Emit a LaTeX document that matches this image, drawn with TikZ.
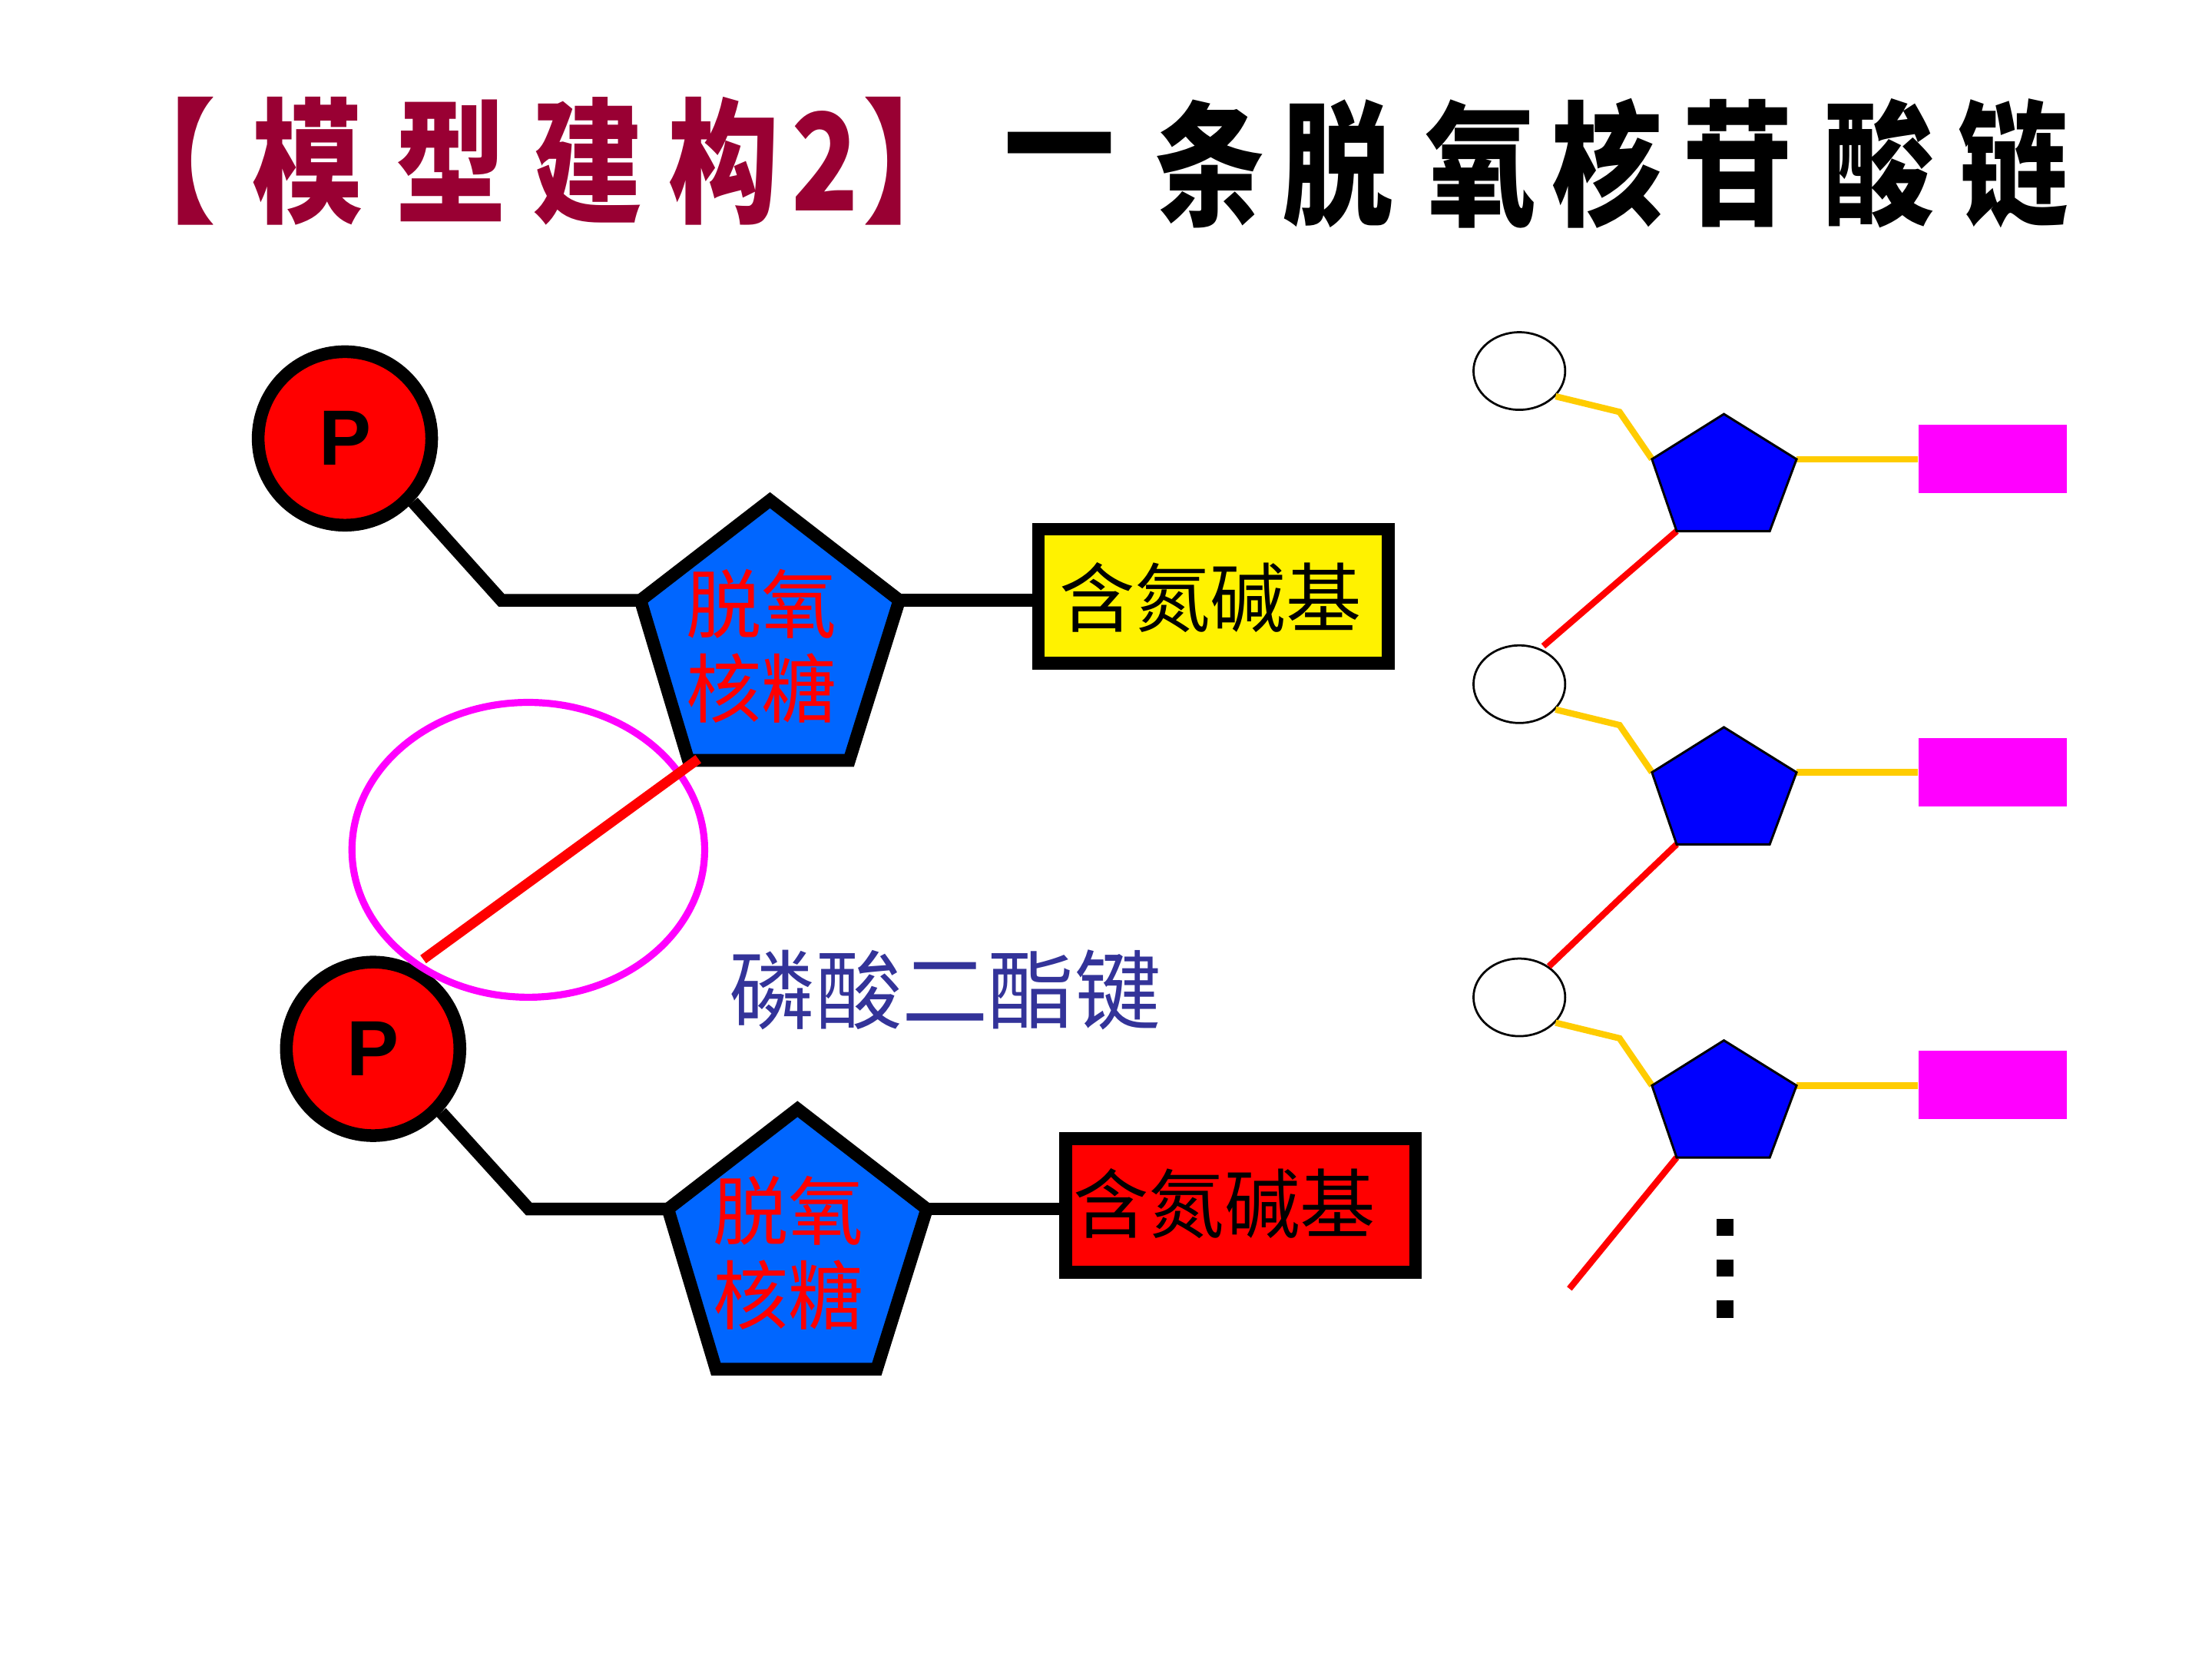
\documentclass[tikz,border=0pt]{standalone}
\usepackage{fontspec}
\newfontfamily\cjk{Noto Sans CJK SC}
\newfontfamily\latin{Liberation Sans}
\usetikzlibrary{shapes.geometric}
\newcommand\upx{0.459184pt}
\definecolor{titlered}{HTML}{990033}
\definecolor{sugarblue}{HTML}{0066FF}
\definecolor{bondblue}{HTML}{333399}
\definecolor{linkyellow}{HTML}{FFCC00}
\definecolor{basemag}{HTML}{FF00FF}
\definecolor{smallblue}{HTML}{0000FF}
\begin{document}
\begin{tikzpicture}[x=0.459184pt, y=-0.459184pt,
  heavy/.style={line width=9*\upx, draw=black, line join=miter},
  phos/.style={circle, draw=black, fill=red, line width=9*\upx, minimum size=123*\upx, inner sep=0pt,
    font=\latin\bfseries\fontsize{25.5}{28}\selectfont},
  sugar/.style={draw=black, fill=sugarblue, line width=9*\upx, line join=miter},
  basebox/.style={rectangle, draw=black, line width=9*\upx, minimum width=248*\upx, minimum height=95*\upx, inner sep=0pt},
  basetext/.style={font=\cjk\fontsize{24.6}{28}\selectfont, text=black, inner sep=0pt},
  sugartext/.style={font=\cjk\fontsize{24.5}{27.6}\selectfont, text=red, align=center, inner sep=0pt},
  bondtext/.style={font=\cjk\fontsize{28.1}{32}\selectfont, text=bondblue, inner sep=0pt},
  titlechar/.style={font=\cjk\bfseries\fontsize{36}{40}\selectfont, inner sep=0pt, yscale=1.22},
  hole/.style={ellipse, draw=black, line width=1.5*\upx, minimum width=65*\upx, minimum height=55*\upx, inner sep=0pt},
  minisugar/.style={draw=black, fill=smallblue, line width=1.6*\upx, line join=miter},
  yellowlink/.style={draw=linkyellow, line width=4.5*\upx},
  redlink/.style={draw=red, line width=4.5*\upx},
  minibase/.style={rectangle, fill=basemag, minimum width=105*\upx, minimum height=48.5*\upx, inner sep=0pt},
  dotsq/.style={rectangle, fill=black, minimum size=12*\upx, inner sep=0pt}
]
\useasboundingbox (0,0) rectangle (1568,1176);
\fill[white] (0,0) rectangle (1568,1176);

% ---- title ----
\foreach \ch/\x [count=\i] in {【/114,模/218,型/320,建/417,构/513,2/585,】/651}
  \node[titlechar, text=titlered] (tr\i) at (\x,114) {\ch};
\foreach \ch/\x [count=\i] in {一/751,条/858,脱/948,氧/1050,核/1139,苷/1232,酸/1332,链/1427}
  \node[titlechar, text=black] (tb\i) at (\x,116) {\ch};

% ---- first nucleotide ----
\coordinate (c1) at (355.4,425.5);
\coordinate (s1t) at (545.8,354.6);
\coordinate (s1r) at (637.5,425.5);
\coordinate (s1br) at (602,539);
\coordinate (s1bl) at (488,539);
\coordinate (s1l) at (454,425.5);
\node[phos] (p1) at (244.5,310.8) {P};
\node[basebox, fill=yellow] (b1) at (860,422.5) {};
\node[basetext] (b1t) at (858,423.5) {含氮碱基};
\draw[heavy] (p1.-43) -- (c1) -- (s1l);
\draw[heavy] (s1r) -- (s1r -| b1.west);
\draw[sugar] (s1t) -- (s1r) -- (s1br) -- (s1bl) -- (s1l) -- cycle;
\node[sugartext] (s1txt) at (540,458) {脱氧\\核糖};

% ---- second nucleotide ----
\coordinate (c2) at (374.9,857);
\coordinate (s2t) at (565.3,786.1);
\coordinate (s2r) at (657,857);
\coordinate (s2br) at (621.5,970.5);
\coordinate (s2bl) at (507.5,970.5);
\coordinate (s2l) at (473.5,857);
\node[phos] (p2) at (264.5,743.5) {P};
\node[basebox, fill=red] (b2) at (879.5,854.5) {};
\node[basetext] (b2t) at (868,853) {含氮碱基};
\draw[heavy] (p2.-43) -- (c2) -- (s2l);
\draw[heavy] (s2r) -- (s2r -| b2.west);
\draw[sugar] (s2t) -- (s2r) -- (s2br) -- (s2bl) -- (s2l) -- cycle;
\node[sugartext] (s2txt) at (559,888) {脱氧\\核糖};

% ---- phosphodiester bond ----
\node[ellipse, draw=basemag, line width=5*\upx, minimum width=250*\upx, minimum height=209*\upx, inner sep=0pt] (ring) at (374.5,602.4) {};
\coordinate (o3) at (495,538);
\coordinate (o5) at (300,680);
\draw[red, line width=7*\upx] (o5) -- (o3);
\node[bondtext] (bondlbl) at (670,701.5) {磷酸二酯键};

% ---- chain of nucleotides ----
\foreach \k in {0,1,2}{
  \pgfmathsetmacro\dy{222*\k}
  \node[hole] (h\k) at (1077,263+\dy) {};
  \coordinate (q\k t) at (1222,293.5+\dy);
  \coordinate (q\k r) at (1273.5,325.5+\dy);
  \coordinate (q\k br) at (1254.5,376.5+\dy);
  \coordinate (q\k bl) at (1188.5,376.5+\dy);
  \coordinate (q\k l) at (1171,325.5+\dy);
  \coordinate (k\k) at (1148,292+\dy);
  \node[minibase] (m\k) at (1412.5,325.25+\dy) {};
}
\coordinate (e0) at (1094,458);
\coordinate (e1) at (1098,685);
\coordinate (e2) at (1112.5,913.5);
\foreach \k in {0,1,2}{
  \draw[redlink] (q\k bl) -- (e\k);
  \draw[yellowlink] (h\k.-35) -- (k\k) -- (q\k l);
  \draw[yellowlink] (q\k r) -- (q\k r -| m\k.west);
  \draw[minisugar] (q\k t) -- (q\k r) -- (q\k br) -- (q\k bl) -- (q\k l) -- cycle;
}
\node[dotsq] (d1) at (1223,870) {};
\node[dotsq] (d2) at (1223,899) {};
\node[dotsq] (d3) at (1223,928) {};
\end{tikzpicture}
\end{document}
